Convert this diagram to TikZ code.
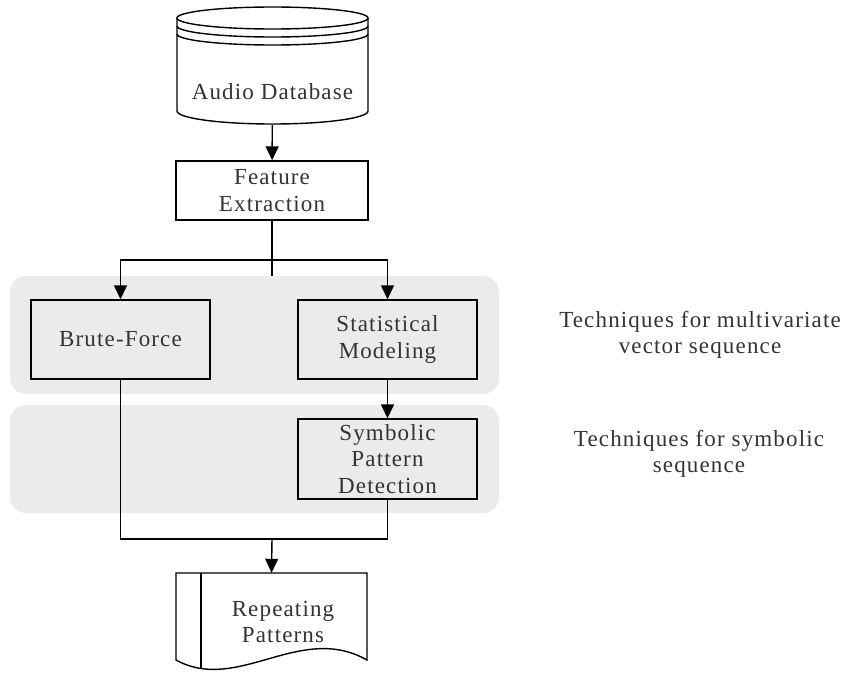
\documentclass[tikz,border=0pt]{standalone}
\usepackage{fontspec}
\setmainfont{Liberation Serif}[LetterSpace=5]
\usetikzlibrary{arrows.meta}
\definecolor{panelgray}{HTML}{EBEBEB}
\definecolor{txtgray}{HTML}{333333}
\tikzset{
  x=1pt, y=-1pt,
  every node/.style={font=\fontsize{23}{26.5}\selectfont, text=txtgray, align=center, inner sep=0pt},
  procbox/.style={draw=black, line width=1.4pt, minimum width=179pt, minimum height=79pt},
  panel/.style={fill=panelgray, draw=none, rounded corners=16pt},
  link/.style={draw=black, line width=1.4pt},
  arr/.style={link, -{Triangle[length=14pt,width=13pt]}},
  outline/.style={draw=black, line width=1.4pt},
}
\begin{document}
\begin{tikzpicture}
\useasboundingbox (0,0) rectangle (850,672);

% shaded bands behind the two technique groups
\fill[panel] (10,276) rectangle (499,394);
\fill[panel] (10,405) rectangle (499,513);

% database cylinder (y grows downward, so arcs through 90 degrees bend down)
\draw[outline] (272.5,18) ellipse [x radius=95.5, y radius=11];
\draw[outline] (177,26) arc [start angle=180, end angle=0, x radius=95.5, y radius=11];
\draw[outline] (177,34) arc [start angle=180, end angle=0, x radius=95.5, y radius=11];
\draw[outline] (177,18) -- (177,111) arc [start angle=180, end angle=0, x radius=95.5, y radius=13] -- (368,18);
\node[minimum width=191pt, minimum height=118pt] (db) at (272.5,66) {};
\node at (272.5,92) {Audio Database};

% processing boxes
\node[procbox, fill=white, minimum width=192pt, minimum height=59pt] (fe) at (272,190.5) {Feature\\Extraction};
\node[procbox] (bf) at (120.5,339.5) {Brute-Force};
\node[procbox] (sm) at (387.5,339.5) {Statistical\\Modeling};
\node[procbox, minimum height=80pt] (sp) at (387.5,459) {Symbolic\\Pattern\\Detection};

% output document
\path[outline] (176,573) -- (367,573) -- (367,660)
  .. controls (300,622) and (238,694) .. (176,660) -- cycle;
\begin{scope}
  \clip (176,573) -- (367,573) -- (367,660)
    .. controls (300,622) and (238,694) .. (176,660) -- cycle;
  \draw[outline] (201,573) -- (201,700);
\end{scope}
\node[minimum width=191pt, minimum height=87pt] (rp) at (271.5,616.5) {};
\node at (283,622) {Repeating\\Patterns};

% side labels
\node at (700,335) {Techniques for multivariate\\vector sequence};
\node at (699,454) {Techniques for symbolic\\sequence};

% connectors
\coordinate (split) at (272,260);
\coordinate (stub) at (272,276);
\coordinate (merge) at (272,539);
\draw[arr] (db) -- (fe);
\draw[link] (fe) -- (stub);
\draw[arr] (split) -| (bf.north);
\draw[arr] (split) -| (sm.north);
\draw[arr] (sm) -- (sp);
\draw[link] (bf.south) |- (merge) -| (sp.south);
\draw[arr] (merge) -- (rp.north);
\end{tikzpicture}
\end{document}
